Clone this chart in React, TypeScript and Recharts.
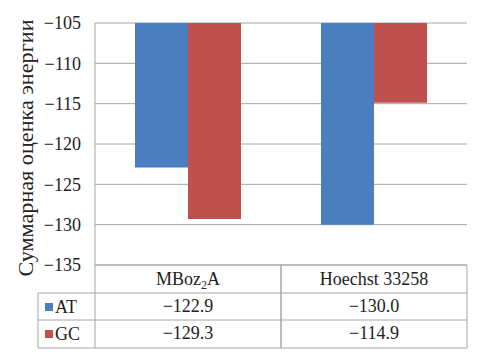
import { BarChart, Bar, XAxis, YAxis, CartesianGrid } from "recharts";

const compounds = ["MBoz2A", "Hoechst 33258"];
const atValues = [-122.9, -130.0];
const gcValues = [-129.3, -114.9];
const yTicks = [-135, -130, -125, -120, -115, -110, -105];

const series = [
  { key: "AT", values: atValues, color: "#4A7EBF" },
  { key: "GC", values: gcValues, color: "#C0504D" },
];

const data = compounds.map((name, i) => ({ name, AT: atValues[i], GC: gcValues[i] }));

const W = 485;
const H = 360;
const PLOT_LEFT = 95;
const PLOT_RIGHT = 467;
const PLOT_TOP = 23;
const PLOT_BOTTOM = 265;
const BAND = (PLOT_RIGHT - PLOT_LEFT) / compounds.length;
const TABLE_LEFT = 38;
const ROWS = [PLOT_BOTTOM, 293, 320, 348];
const LINE = "#A6A6A6";
const FONT = "Liberation Serif, DejaVu Serif, serif";
const txt = { fontFamily: FONT };

const fmt = (v: number) => (v < 0 ? "\u2212" : "") + Math.abs(v).toFixed(1);
const fmtTick = (v: number) => (v < 0 ? "\u2212" : "") + Math.abs(v);

function HeaderText({ name, x, y }: { name: string; x: number; y: number }) {
  const m = name.match(/^(.*?)(\d)(\D*)$/);
  if (name === "MBoz2A" && m) {
    return (
      <text x={x} y={y} textAnchor="middle" style={txt} fontSize={18} fill="#222">
        {m[1]}
        <tspan dy={4} fontSize={12}>{m[2]}</tspan>
        <tspan dy={-4}>{m[3]}</tspan>
      </text>
    );
  }
  return (
    <text x={x} y={y} textAnchor="middle" style={txt} fontSize={18} fill="#222">
      {name}
    </text>
  );
}

function TableTick(props: any) {
  const { x, payload, index } = props;
  const left = x - BAND / 2;
  const right = x + BAND / 2;
  const i = compounds.indexOf(payload.value);
  return (
    <g>
      <line x1={left} x2={left} y1={ROWS[0]} y2={ROWS[3]} stroke={LINE} />
      <line x1={right} x2={right} y1={ROWS[0]} y2={ROWS[3]} stroke={LINE} />
      <line x1={left} x2={right} y1={ROWS[0]} y2={ROWS[0]} stroke={LINE} />
      <line x1={left} x2={right} y1={ROWS[1]} y2={ROWS[1]} stroke={LINE} />
      <line x1={left} x2={right} y1={ROWS[2]} y2={ROWS[2]} stroke={LINE} />
      <line x1={left} x2={right} y1={ROWS[3]} y2={ROWS[3]} stroke={LINE} />
      <HeaderText name={payload.value} x={x} y={ROWS[0] + 20} />
      {series.map((s, r) => (
        <text
          key={s.key}
          x={x}
          y={ROWS[r + 1] + 19}
          textAnchor="middle"
          style={txt}
          fontSize={18}
          fill="#222"
        >
          {fmt(s.values[i])}
        </text>
      ))}
      {index === 0 && (
        <g>
          <line x1={TABLE_LEFT} x2={left} y1={ROWS[1]} y2={ROWS[1]} stroke={LINE} />
          <line x1={TABLE_LEFT} x2={left} y1={ROWS[2]} y2={ROWS[2]} stroke={LINE} />
          <line x1={TABLE_LEFT} x2={left} y1={ROWS[3]} y2={ROWS[3]} stroke={LINE} />
          <line x1={TABLE_LEFT} x2={TABLE_LEFT} y1={ROWS[1]} y2={ROWS[3]} stroke={LINE} />
          {series.map((s, r) => (
            <g key={s.key}>
              <rect x={TABLE_LEFT + 7} y={ROWS[r + 1] + 10} width={8} height={8} fill={s.color} />
              <text x={TABLE_LEFT + 17} y={ROWS[r + 1] + 20} style={txt} fontSize={18} fill="#222">
                {s.key}
              </text>
            </g>
          ))}
        </g>
      )}
    </g>
  );
}

function YLabel() {
  const cy = 148;
  return (
    <text
      x={33}
      y={cy}
      transform={`rotate(-90, 33, ${cy})`}
      textAnchor="middle"
      style={txt}
      fontSize={22}
      fill="#222"
      textLength={257}
      lengthAdjust="spacingAndGlyphs"
    >
      Суммарная оценка энергии
    </text>
  );
}

export default function App() {
  return (
    <div style={{ position: "absolute", left: 0, top: 0, width: W, height: H, background: "#fff", fontFamily: FONT }}>
      <BarChart
        width={W}
        height={H}
        data={data}
        margin={{ top: PLOT_TOP, right: W - PLOT_RIGHT, left: 0, bottom: 5 }}
        barCategoryGap={40}
        barGap={0}
        baseValue="dataMax"
        style={txt}
      >
        <CartesianGrid vertical={false} stroke={LINE} />
        <XAxis
          dataKey="name"
          height={H - PLOT_BOTTOM - 5}
          axisLine={false}
          tickLine={false}
          tickSize={0}
          tickMargin={0}
          interval={0}
          tick={<TableTick />}
        />
        <YAxis
          width={PLOT_LEFT}
          domain={[-135, -105]}
          ticks={yTicks}
          allowDataOverflow
          tickFormatter={fmtTick}
          axisLine={{ stroke: LINE }}
          tickLine={false}
          tickMargin={8}
          tick={{ fontFamily: FONT, fontSize: 18, fill: "#222" }}
          label={{ content: () => <YLabel /> }}
        />
        {series.map((s) => (
          <Bar key={s.key} dataKey={s.key} fill={s.color} isAnimationActive={false} />
        ))}
      </BarChart>
    </div>
  );
}
